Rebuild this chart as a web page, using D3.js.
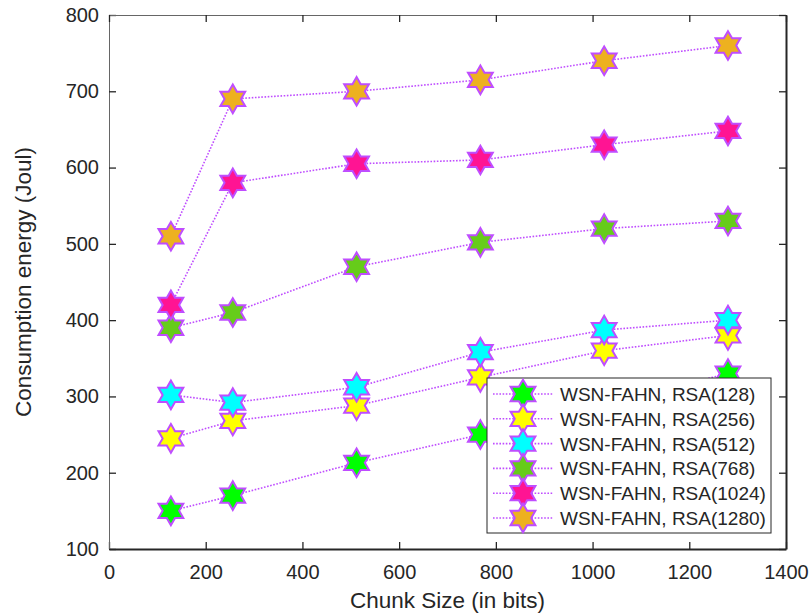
<!DOCTYPE html>
<html>
<head>
<meta charset="utf-8">
<script src="https://cdn.jsdelivr.net/npm/d3@7"></script>
<style>
	body { margin: 0; background: #fff; }
	text { font-family: "Liberation Sans", Arial, sans-serif; fill: #262626; }
</style>
</head>
<body>
<div id="chart"></div>
<script>
// DATA
const chunkSizes = [128, 256, 512, 768, 1024, 1280];
const rsa128 = [150, 170, 213, 250, 290, 330];
const rsa256 = [245, 268, 288, 325, 360, 380];
const rsa512 = [302, 292, 312, 358, 387, 400];
const rsa768 = [390, 410, 470, 502, 520, 530];
const rsa1024 = [420, 580, 605, 610, 630, 648];
const rsa1280 = [510, 690, 700, 715, 740, 760];
const seriesNames = ["WSN-FAHN, RSA(128)", "WSN-FAHN, RSA(256)", "WSN-FAHN, RSA(512)",
	"WSN-FAHN, RSA(768)", "WSN-FAHN, RSA(1024)", "WSN-FAHN, RSA(1280)"];
const seriesColors = ["#00ff00", "#ffff00", "#00ffff", "#66cc1a", "#ff1493", "#edb120"];
const xTicks = [0, 200, 400, 600, 800, 1000, 1200, 1400];
const yTicks = [100, 200, 300, 400, 500, 600, 700, 800];

const allSeries = [rsa128, rsa256, rsa512, rsa768, rsa1024, rsa1280];

var W = 809, H = 615;
var margin = { top: 15, right: 23, bottom: 66, left: 109 },
	width = W - margin.left - margin.right,
	height = H - margin.top - margin.bottom;

var svg = d3.select("#chart").append("svg")
	.attr("width", W).attr("height", H)
	.append("g")
	.attr("transform", "translate(" + margin.left + "," + margin.top + ")");

var x = d3.scaleLinear().domain([0, 1400]).range([0, width]);
var y = d3.scaleLinear().domain([100, 800]).range([height, 0]);

// HEXAGRAM MARKER
var hexagram = {
	draw: function (context, size) {
		var R = Math.sqrt(size), r = R / Math.sqrt(3);
		for (var i = 0; i < 12; i++) {
			var a = -Math.PI / 2 + i * Math.PI / 6;
			var rr = i % 2 === 0 ? R : r;
			if (i === 0) context.moveTo(rr * Math.cos(a), rr * Math.sin(a));
			else context.lineTo(rr * Math.cos(a), rr * Math.sin(a));
		}
		context.closePath();
	}
};
var marker = d3.symbol().type(hexagram).size(14.3 * 14.3);

// AXES (ticks inside, box)
var tickLen = 7;
var fmt = d3.format("d");
var gx = svg.append("g").attr("class", "thick").attr("transform", "translate(0," + height + ")")
	.call(d3.axisBottom(x).tickValues(xTicks).tickFormat(fmt).tickSizeInner(-tickLen).tickSizeOuter(0).tickPadding(16));
var gy = svg.append("g").attr("class", "thin")
	.call(d3.axisLeft(y).tickValues(yTicks).tickFormat(fmt).tickSizeInner(-tickLen).tickSizeOuter(0).tickPadding(10));
svg.append("g").attr("class", "thin")
	.call(d3.axisTop(x).tickValues(xTicks).tickSizeInner(-tickLen).tickSizeOuter(0).tickFormat(""));
svg.append("g").attr("class", "thick").attr("transform", "translate(" + width + ",0)")
	.call(d3.axisRight(y).tickValues(yTicks).tickSizeInner(-tickLen).tickSizeOuter(0).tickFormat(""));
svg.selectAll(".thick .domain").attr("stroke", "#262626").attr("stroke-width", 2);
svg.selectAll(".thin .domain").attr("stroke", "#666").attr("stroke-width", 1);
svg.selectAll(".tick line").attr("stroke", "#262626").attr("stroke-width", 1.3);
svg.selectAll(".tick text").attr("font-size", 20).attr("fill", "#262626")
	.attr("font-family", "'Liberation Sans', Arial, sans-serif");

// AXIS LABELS
svg.append("text")
	.attr("x", width / 2).attr("y", height + 59)
	.attr("text-anchor", "middle").attr("font-size", 22.5)
	.text("Chunk Size (in bits)");
svg.append("text")
	.attr("transform", "translate(-78," + height / 2 + ") rotate(-90)")
	.attr("text-anchor", "middle").attr("font-size", 22.5)
	.text("Consumption energy (Joul)");

// LINES + MARKERS
var line = d3.line()
	.x(function (d, i) { return x(chunkSizes[i]); })
	.y(function (d) { return y(d); });

allSeries.forEach(function (vals, k) {
	svg.append("path").datum(vals)
		.attr("fill", "none")
		.attr("stroke", "#bf4dff")
		.attr("stroke-width", 1.6)
		.attr("stroke-dasharray", "1.6,1.6")
		.attr("d", line);
	svg.selectAll(".dot" + k).data(vals).join("path")
		.attr("class", "dot" + k)
		.attr("transform", function (d, i) { return "translate(" + x(chunkSizes[i]) + "," + y(d) + ")"; })
		.attr("d", marker)
		.attr("fill", seriesColors[k])
		.attr("stroke", "#bf4dff")
		.attr("stroke-width", 2);
});

// LEGEND
var lg = svg.append("g").attr("transform", "translate(" + (487 - margin.left) + "," + (378 - margin.top) + ")");
lg.append("rect").attr("width", 284).attr("height", 155)
	.attr("fill", "#fff").attr("stroke", "#262626").attr("stroke-width", 1);
seriesNames.forEach(function (name, k) {
	var cy = 16 + k * 24.8;
	lg.append("line").attr("x1", 6).attr("x2", 66).attr("y1", cy).attr("y2", cy)
		.attr("stroke", "#bf4dff").attr("stroke-width", 1.6).attr("stroke-dasharray", "1.6,1.6");
	lg.append("path").attr("transform", "translate(36," + cy + ")")
		.attr("d", marker).attr("fill", seriesColors[k])
		.attr("stroke", "#bf4dff").attr("stroke-width", 2);
	lg.append("text").attr("x", 73).attr("y", cy + 7)
		.attr("font-size", 19).text(name);
});
</script>
</body>
</html>
